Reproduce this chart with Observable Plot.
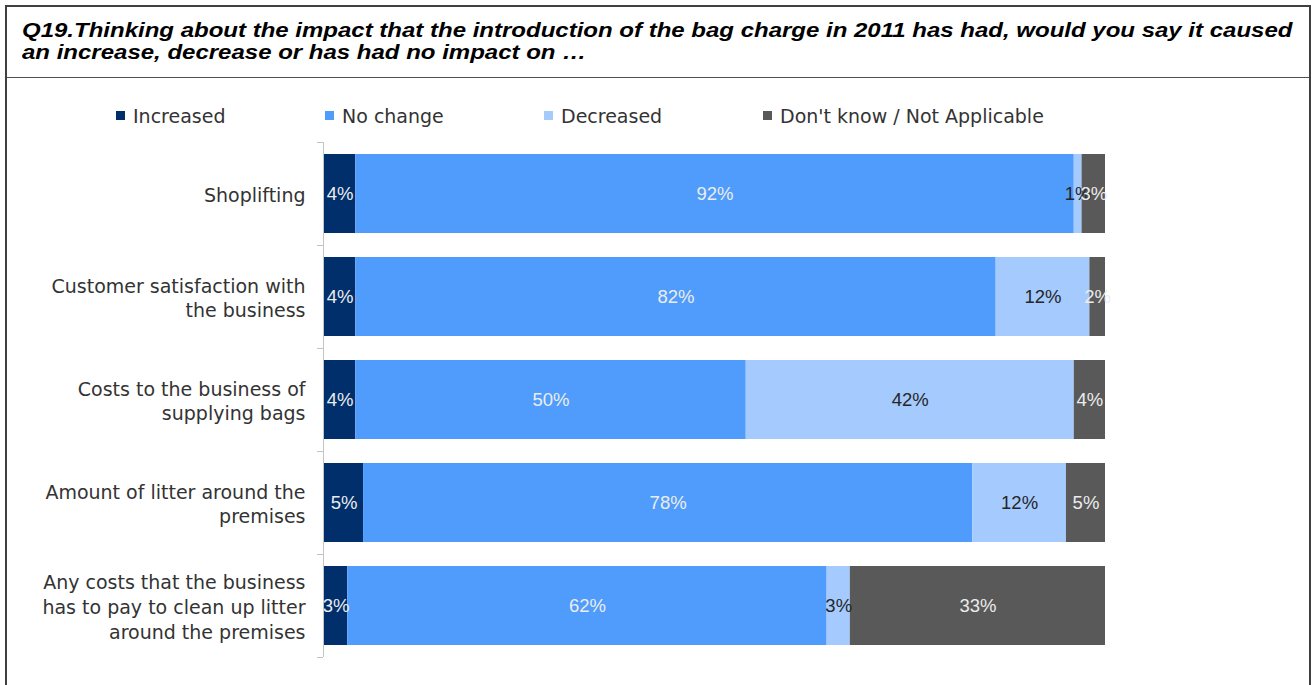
<!DOCTYPE html>
<html><head><meta charset="utf-8">
<script src="https://cdn.jsdelivr.net/npm/d3@7"></script>
<script src="https://cdn.jsdelivr.net/npm/@observablehq/plot@0.6"></script>
<style>
html,body{margin:0;padding:0;background:#fff;}
body{width:1313px;height:685px;overflow:hidden;position:relative;font-family:"Liberation Sans",Arial,sans-serif;}
#frame{position:absolute;left:5px;top:5px;width:1302px;height:700px;border:2px solid #404040;border-bottom:none;}
#title{position:absolute;left:0;top:0;width:1302px;height:70px;border-bottom:1px solid #505050;box-sizing:content-box;}
#title div{position:absolute;left:15px;top:12px;font-weight:bold;font-style:italic;font-size:20px;line-height:22px;color:#000;white-space:nowrap;transform:scaleX(1.2);transform-origin:0 0;}
.leg{position:absolute;top:104px;height:24px;line-height:24px;font-family:"DejaVu Sans",sans-serif;font-size:19px;color:#333;white-space:nowrap;}
.leg span.sw{position:absolute;top:7px;width:9px;height:9px;}
#chart{position:absolute;left:0;top:130px;}
</style></head>
<body>
<div id="frame"><div id="title"><div id="ttext"></div></div></div>
<div id="legend"></div>
<div id="chart"></div>
<script>
const titleLines = ["Q19.Thinking about the impact that the introduction of the bag charge in 2011 has had, would you say it caused", "an increase, decrease or has had no impact on \u2026"];
const categories = ["Shoplifting", "Customer satisfaction with\nthe business", "Costs to the business of\nsupplying bags", "Amount of litter around the\npremises", "Any costs that the business\nhas to pay to clean up litter\naround the premises"];
const series = ["Increased", "No change", "Decreased", "Don't know / Not Applicable"];
const increased = [4, 4, 4, 5, 3];
const noChange = [92, 82, 50, 78, 62];
const decreased = [1, 12, 42, 12, 3];
const dontKnow = [3, 2, 4, 5, 33];
const colors = ["#002F6C", "#4F9CFC", "#A4CAFE", "#595959"];
const legendX = [116, 325, 544, 763];

document.getElementById("ttext").innerHTML = titleLines.join("<br>");

const legend = document.getElementById("legend");
series.forEach((s, i) => {
  const d = document.createElement("div");
  d.className = "leg";
  d.style.left = legendX[i] + "px";
  d.innerHTML = `<span class="sw" style="left:0;background:${colors[i]}"></span><span style="margin-left:17px">${s}</span>`;
  legend.appendChild(d);
});

const valuesBySeries = [increased, noChange, decreased, dontKnow];
const data = [];
categories.forEach((c, i) => series.forEach((s, j) => data.push({category: c, series: s, value: valuesBySeries[j][i]})));

const W = 1313, H = 540, mt = 12, mb = 13;
const step = (H - mt - mb) / categories.length;
const darkLabel = new Set(["Decreased"]);
const stackOpts = {offset: "normalize", x: "value", y: "category", z: "series"};

const chart = Plot.plot({
  width: W, height: H,
  marginLeft: 324, marginRight: 208, marginTop: mt, marginBottom: mb,
  style: {fontFamily: '"Liberation Sans", Arial, sans-serif', background: "transparent"},
  x: {domain: [0, 1], axis: null},
  y: {domain: categories, axis: null, paddingInner: 0.233, paddingOuter: 0.1165},
  color: {domain: series, range: colors},
  marks: [
    Plot.barX(data, Plot.stackX({...stackOpts, fill: "series"})),
    Plot.text(data, Plot.stackX({...stackOpts, text: d => darkLabel.has(d.series) ? d.value + "%" : "", fill: "#262626", fontSize: 18.5})),
    Plot.text(data, Plot.stackX({...stackOpts, text: d => darkLabel.has(d.series) ? "" : d.value + "%", fill: "#ececec", fontSize: 18.5})),
    Plot.ruleX([0], {stroke: "#c4c4c4", dx: -1}),
    Plot.ruleY(categories, {y: d => d, x1: 0, x2: 0, insetLeft: -6, dx: -1, dy: -step / 2, stroke: "#c4c4c4"}),
    Plot.ruleY(categories.slice(-1), {y: d => d, x1: 0, x2: 0, insetLeft: -6, dx: -1, dy: step / 2, stroke: "#c4c4c4"}),
    Plot.text(categories, {x: 0, y: d => d, text: d => d, textAnchor: "end", dx: -19, fontSize: 19, fontFamily: "DejaVu Sans", lineHeight: 1.3, fill: "#333"})
  ]
});
document.getElementById("chart").appendChild(chart);
</script>
</body></html>
